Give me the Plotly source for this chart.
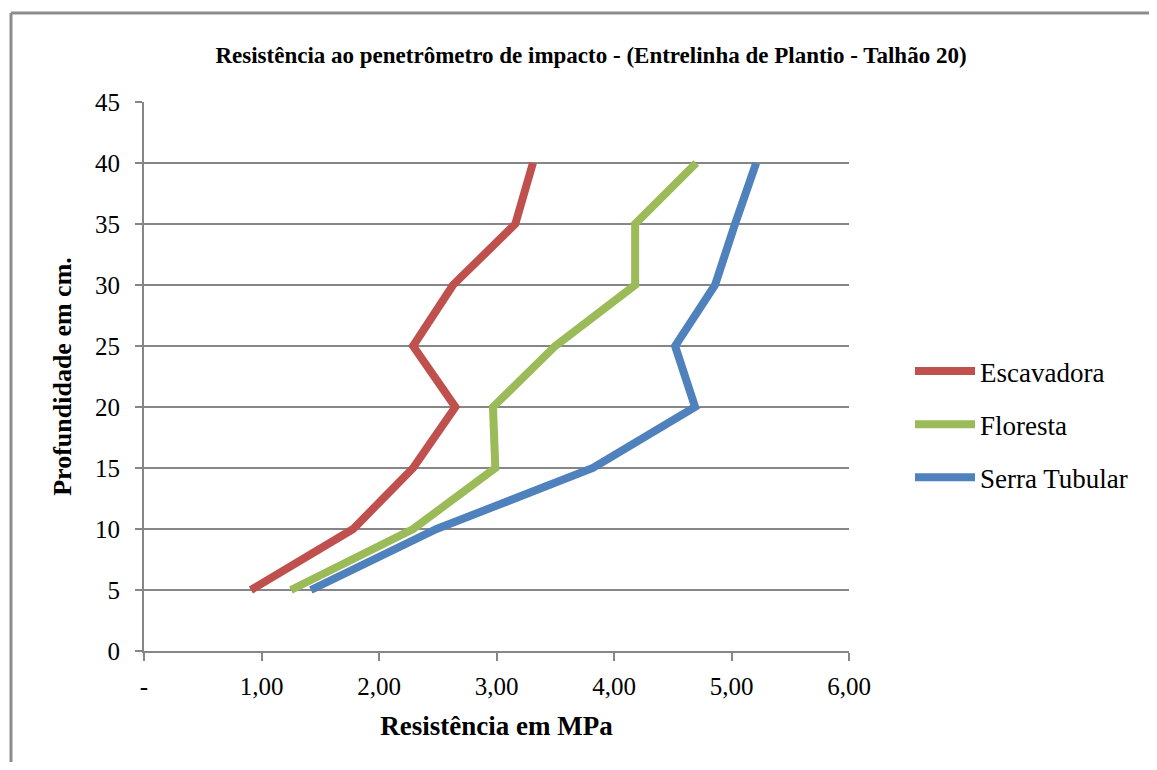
import plotly.graph_objects as go

profundidade = [5, 10, 15, 20, 25, 30, 35, 40]
escavadora = [0.91, 1.78, 2.29, 2.65, 2.29, 2.63, 3.16, 3.31]
floresta = [1.25, 2.29, 2.99, 2.97, 3.50, 4.18, 4.18, 4.70]
serra_tubular = [1.42, 2.49, 3.82, 4.69, 4.52, 4.86, 5.03, 5.21]

series_names = ["Escavadora", "Floresta", "Serra Tubular"]
series_values = [escavadora, floresta, serra_tubular]
colors = ["#C0504D", "#9BBB59", "#4F81BD"]

x_tickvals = [0, 1, 2, 3, 4, 5, 6]
x_ticktext = ["-", "1,00", "2,00", "3,00", "4,00", "5,00", "6,00"]
y_tickvals = [0, 5, 10, 15, 20, 25, 30, 35, 40, 45]

FONT = "Liberation Serif"

fig = go.Figure()
for name, vals, c in zip(series_names, series_values, colors):
    fig.add_trace(go.Scatter(x=vals, y=profundidade, mode="lines", name=name,
                             legendgroup=name,
                             line=dict(color=c, width=8)))

# page offset from default body margin
OFF = 8
W, H = 1157 - 2 * OFF, 770 - 2 * OFF
L, R, T, B = 144 - OFF, 849 - OFF, 102 - OFF, 651 - OFF
pw, ph = R - L, B - T

def px(xp):
    return (xp - OFF - L) / pw

def py(yp):
    return (B - (yp - OFF)) / ph

fig.update_layout(
    width=W, height=H,
    margin=dict(l=L, r=W - R, t=T, b=H - B),
    paper_bgcolor="white", plot_bgcolor="white",
    font=dict(family=FONT, color="black", size=26),
    title=dict(text="<b>Resistência ao penetrômetro de impacto - (Entrelinha de Plantio - Talhão 20)</b>",
               x=(591 - OFF) / W, xanchor="center", y=1 - (55 - OFF) / H, yanchor="middle",
               font=dict(family=FONT, size=23, color="black")),
    xaxis=dict(range=[0, 6], tickvals=x_tickvals, ticktext=x_ticktext,
               showgrid=False, zeroline=False, showline=True, linecolor="#868686", linewidth=2,
               ticks="outside", ticklen=8, tickwidth=2, tickcolor="#868686",
               ticklabelstandoff=4,
               tickfont=dict(size=25, family=FONT),
               title=dict(text="<b>Resistência em MPa</b>", font=dict(size=27, family=FONT), standoff=17)),
    yaxis=dict(range=[0, 45], tickvals=y_tickvals,
               showgrid=True, gridcolor="#868686", gridwidth=2, zeroline=False,
               showline=True, linecolor="#868686", linewidth=2,
               ticks="outside", ticklen=7, tickwidth=2, tickcolor="#868686",
               ticklabelstandoff=10,
               tickfont=dict(size=25, family=FONT),
               title=dict(text="<b>Profundidade em cm.</b>", font=dict(size=26, family=FONT), standoff=16)),
    legend=dict(x=px(910), y=py(347), xanchor="left", yanchor="top",
                font=dict(size=27, family=FONT), tracegroupgap=15, itemwidth=60,
                bgcolor="rgba(0,0,0,0)"),
    showlegend=True,
)

# chart-area border (top and left visible)
fig.add_shape(type="line", xref="paper", yref="paper",
              x0=px(11), x1=px(1200), y0=py(13), y1=py(13),
              line=dict(color="#8C8C8C", width=3))
fig.add_shape(type="line", xref="paper", yref="paper",
              x0=px(11), x1=px(11), y0=py(13), y1=py(800),
              line=dict(color="#8C8C8C", width=3))

fig.write_html("out.html")
